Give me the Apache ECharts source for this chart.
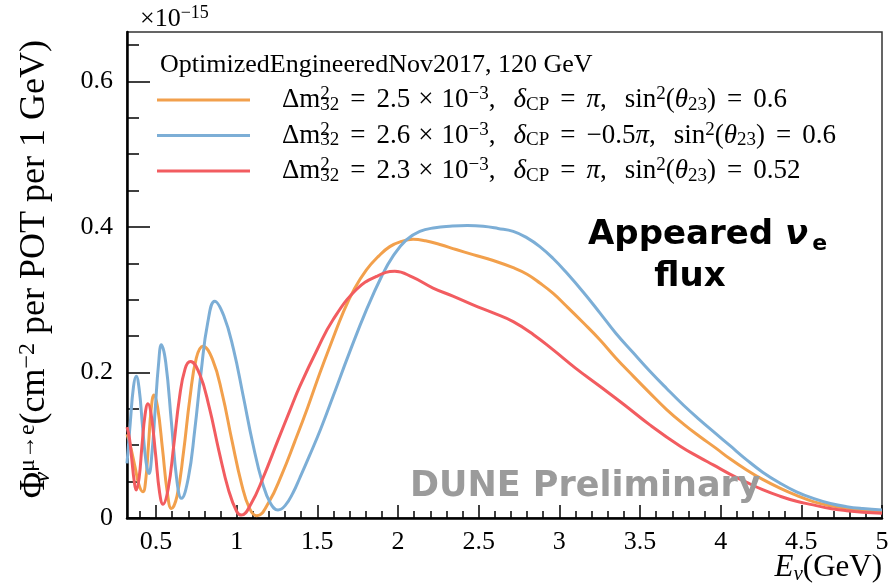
<!DOCTYPE html>
<html>
<head>
<meta charset="utf-8">
<script src="https://cdn.jsdelivr.net/npm/echarts@6/dist/echarts.min.js"></script>
<style>
  html, body { margin: 0; padding: 0; background: #ffffff; }
  #chart { width: 892px; height: 584px; }
</style>
</head>
<body>
<div id="chart"></div>
<script>
// Axis tick positions
const xMajorTicks = [0.5, 1, 1.5, 2, 2.5, 3, 3.5, 4, 4.5, 5];
const xMinorTicks = [0.4, 0.5, 0.6, 0.7, 0.8, 0.9, 1.0, 1.1, 1.2, 1.3, 1.4, 1.5, 1.6, 1.7, 1.8, 1.9,
  2.0, 2.1, 2.2, 2.3, 2.4, 2.5, 2.6, 2.7, 2.8, 2.9, 3.0, 3.1, 3.2, 3.3, 3.4, 3.5, 3.6, 3.7, 3.8, 3.9,
  4.0, 4.1, 4.2, 4.3, 4.4, 4.5, 4.6, 4.7, 4.8, 4.9, 5.0];
const yMajorTicks = [0, 0.2, 0.4, 0.6];
const yMinorTicks = [0.05, 0.1, 0.15, 0.2, 0.25, 0.3, 0.35, 0.4, 0.45, 0.5, 0.55, 0.6, 0.65];

// Appeared nu_e flux, [E_nu (GeV), flux (x1e-15 cm^-2 per POT per 1 GeV)]
const fluxNormal = [ // dm2 = 2.5e-3, dCP = pi, sin2 = 0.6
  [0.32, 0.115], [0.34, 0.10], [0.37, 0.07], [0.395, 0.045], [0.419, 0.036], [0.435, 0.05],
  [0.453, 0.10], [0.47, 0.15], [0.487, 0.169], [0.51, 0.152], [0.54, 0.095], [0.57, 0.035],
  [0.595, 0.013], [0.63, 0.03], [0.67, 0.09], [0.71, 0.165], [0.75, 0.22], [0.791, 0.236],
  [0.85, 0.218], [0.91, 0.171], [0.97, 0.107], [1.03, 0.047], [1.08, 0.013], [1.125, 0.003],
  [1.2, 0.022], [1.28, 0.06], [1.36, 0.105], [1.44, 0.152], [1.515, 0.199], [1.59, 0.243],
  [1.659, 0.282], [1.73, 0.315], [1.804, 0.341], [1.88, 0.36], [1.949, 0.373], [2.02, 0.38],
  [2.093, 0.383], [2.17, 0.381], [2.259, 0.376], [2.36, 0.369], [2.465, 0.362], [2.59, 0.354],
  [2.714, 0.344], [2.80, 0.335], [2.879, 0.323], [2.96, 0.309], [3.045, 0.291], [3.15, 0.268],
  [3.251, 0.245], [3.35, 0.22], [3.458, 0.195], [3.56, 0.172], [3.665, 0.149], [3.77, 0.129],
  [3.87, 0.112], [3.97, 0.096], [4.06, 0.081], [4.161, 0.066], [4.26, 0.053], [4.367, 0.041],
  [4.47, 0.031], [4.574, 0.0225], [4.68, 0.017], [4.781, 0.0133], [4.88, 0.011], [5.0, 0.0087]
];
const fluxMaxCP = [ // dm2 = 2.6e-3, dCP = -0.5 pi, sin2 = 0.6
  [0.32, 0.075], [0.34, 0.13], [0.36, 0.18], [0.377, 0.195], [0.395, 0.178], [0.416, 0.127],
  [0.438, 0.077], [0.456, 0.061], [0.475, 0.09], [0.495, 0.15], [0.515, 0.21], [0.533, 0.238],
  [0.56, 0.214], [0.595, 0.132], [0.63, 0.05], [0.657, 0.027], [0.70, 0.055], [0.74, 0.121],
  [0.78, 0.202], [0.82, 0.268], [0.864, 0.298], [0.92, 0.278], [0.98, 0.232], [1.04, 0.168],
  [1.10, 0.102], [1.16, 0.048], [1.21, 0.02], [1.256, 0.011], [1.30, 0.017], [1.35, 0.035],
  [1.391, 0.055], [1.45, 0.085], [1.52, 0.122], [1.597, 0.167], [1.70, 0.228], [1.804, 0.286],
  [1.90, 0.333], [1.969, 0.36], [2.05, 0.382], [2.135, 0.394], [2.23, 0.399], [2.321, 0.401],
  [2.43, 0.402], [2.528, 0.401], [2.62, 0.398], [2.714, 0.394], [2.80, 0.385], [2.879, 0.373],
  [2.96, 0.357], [3.045, 0.337], [3.15, 0.31], [3.251, 0.282], [3.35, 0.254], [3.458, 0.227],
  [3.56, 0.202], [3.665, 0.178], [3.77, 0.155], [3.87, 0.135], [3.97, 0.116], [4.06, 0.099],
  [4.161, 0.080], [4.26, 0.063], [4.367, 0.048], [4.47, 0.036], [4.574, 0.027], [4.68, 0.02],
  [4.781, 0.0156], [4.88, 0.013], [5.0, 0.011]
];
const fluxLowTheta = [ // dm2 = 2.3e-3, dCP = pi, sin2 = 0.52
  [0.32, 0.125], [0.335, 0.11], [0.35, 0.08], [0.365, 0.05], [0.377, 0.0385], [0.395, 0.055],
  [0.413, 0.10], [0.432, 0.142], [0.45, 0.157], [0.47, 0.142], [0.497, 0.088], [0.522, 0.035],
  [0.543, 0.019], [0.575, 0.04], [0.61, 0.10], [0.645, 0.165], [0.68, 0.205], [0.713, 0.215],
  [0.77, 0.198], [0.83, 0.152], [0.89, 0.092], [0.95, 0.038], [1.0, 0.009], [1.029, 0.004],
  [1.09, 0.02], [1.163, 0.055], [1.256, 0.107], [1.33, 0.148], [1.391, 0.181], [1.50, 0.232],
  [1.597, 0.2725], [1.742, 0.314], [1.866, 0.332], [1.98, 0.339], [2.09, 0.331], [2.217, 0.316],
  [2.34, 0.305], [2.465, 0.293], [2.59, 0.282], [2.714, 0.270], [2.84, 0.252], [2.962, 0.231],
  [3.1, 0.206], [3.251, 0.181], [3.4, 0.156], [3.561, 0.128], [3.747, 0.099], [3.871, 0.083],
  [3.954, 0.073], [4.06, 0.06], [4.161, 0.049], [4.26, 0.039], [4.367, 0.03], [4.47, 0.023],
  [4.574, 0.018], [4.68, 0.013], [4.781, 0.010], [4.88, 0.008], [5.0, 0.0065]
];

const seriesNames = [
  'Δm²₃₂ = 2.5 × 10⁻³, δCP = π, sin²(θ₂₃) = 0.6',
  'Δm²₃₂ = 2.6 × 10⁻³, δCP = −0.5π, sin²(θ₂₃) = 0.6',
  'Δm²₃₂ = 2.3 × 10⁻³, δCP = π, sin²(θ₂₃) = 0.52'
];
const seriesColors = ['#f2a04c', '#7caed6', '#f25c60'];
const seriesData = [fluxNormal, fluxMaxCP, fluxLowTheta];

const serif = "'Liberation Serif', 'Times New Roman', serif";
const sans = "'DejaVu Sans', sans-serif";

// rich-text pieces for the math-like legend labels
const base = { fontFamily: serif, fontSize: 27, lineHeight: 30, color: '#000' };
const small = { fontFamily: serif, fontSize: 19, lineHeight: 19, color: '#000' };
const mathRich = {
  n0: Object.assign({}, base, { padding: [0, 0, 0, 27] }),
  n: base,
  i: Object.assign({}, base, { fontStyle: 'italic' }),
  eq: Object.assign({}, base, { padding: [0, 11, 0, 11] }),
  x: Object.assign({}, base, { padding: [0, 8, 0, 8] }),
  c: Object.assign({}, base, { padding: [0, 18, 0, 0] }),
  sup: Object.assign({}, small, { padding: [0, 0, 11, 0] }),
  supz: Object.assign({}, small, { padding: [0, 0, 11, 0], width: 0 }),
  sub: Object.assign({}, small, { padding: [10, 0, 0, 0] })
};

function legendRow(dm, cp, s2) {
  return '{n0|Δm}{supz|2}{sub|32}{eq|=}{n|' + dm + '}{x|×}{n|10}{sup|−3}{c|,}' +
    '{i|δ}{sub|CP}{eq|=}' + cp + '{c|,}' +
    '{n|sin}{sup|2}{n|(}{i|θ}{sub|23}{n|)}{eq|=}{n|' + s2 + '}';
}
const legendLabels = {};
legendLabels[seriesNames[0]] = legendRow('2.5', '{i|π}', '0.6');
legendLabels[seriesNames[1]] = legendRow('2.6', '{n|−0.5}{i|π}', '0.6');
legendLabels[seriesNames[2]] = legendRow('2.3', '{i|π}', '0.52');

const chart = echarts.init(document.getElementById('chart'), null, { renderer: 'canvas' });

const X_MIN = 0.32, X_MAX = 5, Y_MIN = 0, Y_MAX = 0.668;

const option = {
  animation: false,
  backgroundColor: '#ffffff',
  grid: {
    left: 127, right: 10, top: 32, bottom: 66,
    show: true, borderColor: '#333', borderWidth: 1.5,
    outerBoundsMode: 'none'
  },
  legend: {
    orient: 'vertical',
    left: 157, top: 85,
    padding: 0,
    itemGap: 5.5,
    itemWidth: 93, itemHeight: 3,
    icon: 'rect',
    data: seriesNames,
    formatter: name => legendLabels[name],
    textStyle: { rich: mathRich }
  },
  xAxis: [
    {
      type: 'value', min: X_MIN, max: X_MAX,
      axisLine: { show: true, onZero: false, lineStyle: { color: '#000', width: 2.5 } },
      axisTick: { show: true, inside: true, length: 13, customValues: xMajorTicks, lineStyle: { color: '#000', width: 1.5 } },
      axisLabel: { show: true, customValues: xMajorTicks, margin: 11, color: '#000', fontFamily: serif, fontSize: 26 },
      splitLine: { show: false }
    },
    {
      type: 'value', min: X_MIN, max: X_MAX, position: 'bottom',
      axisLine: { show: false },
      axisTick: { show: true, inside: true, length: 7, customValues: xMinorTicks, lineStyle: { color: '#000', width: 1.5 } },
      axisLabel: { show: false },
      splitLine: { show: false }
    }
  ],
  yAxis: [
    {
      type: 'value', min: Y_MIN, max: Y_MAX,
      axisLine: { show: true, onZero: false, lineStyle: { color: '#000', width: 2.5 } },
      axisTick: { show: true, inside: true, length: 23, customValues: yMajorTicks, lineStyle: { color: '#000', width: 1.5 } },
      axisLabel: { show: true, customValues: yMajorTicks, margin: 14, color: '#000', fontFamily: serif, fontSize: 26 },
      splitLine: { show: false }
    },
    {
      type: 'value', min: Y_MIN, max: Y_MAX, position: 'left',
      axisLine: { show: false },
      axisTick: { show: true, inside: true, length: 12, customValues: yMinorTicks, lineStyle: { color: '#000', width: 1.5 } },
      axisLabel: { show: false },
      splitLine: { show: false }
    }
  ],
  series: seriesData.map((d, k) => ({
    name: seriesNames[k],
    type: 'line',
    xAxisIndex: 0, yAxisIndex: 0,
    data: d,
    smooth: 0.45,
    showSymbol: false,
    symbol: 'none',
    color: seriesColors[k],
    lineStyle: { color: seriesColors[k], width: 3 },
    z: 3 + k
  })),
  graphic: [
    { // exponent of the y scale
      type: 'text', x: 140, y: 19, z: 10,
      style: {
        text: '{n|×10}{sup|−15}',
        rich: {
          n: { fontFamily: serif, fontSize: 26, lineHeight: 30, fill: '#000' },
          sup: { fontFamily: serif, fontSize: 18, lineHeight: 18, fill: '#000', padding: [0, 0, 12, 0] }
        },
        align: 'left', verticalAlign: 'middle'
      }
    },
    { // legend header
      type: 'text', x: 160, y: 65, z: 10,
      style: {
        text: 'OptimizedEngineeredNov2017, 120 GeV',
        fontFamily: serif, fontSize: 26, fill: '#000',
        align: 'left', verticalAlign: 'middle'
      }
    },
    { // y axis title
      type: 'text', x: 35, y: 40, rotation: Math.PI / 2, z: 10,
      style: {
        text: '{b|Φ}{bsubz|ν}{bsup|μ→e}{b|(cm}{bsup|−2}{b| per POT per 1 GeV)}',
        rich: {
          b: { fontFamily: serif, fontSize: 36, lineHeight: 40, fill: '#000' },
          bsup: { fontFamily: serif, fontSize: 24, lineHeight: 24, fill: '#000', padding: [0, 0, 15, 0] },
          bsubz: { fontFamily: serif, fontSize: 24, lineHeight: 24, fill: '#000', fontStyle: 'italic', padding: [15, 0, 0, 0], width: 0 }
        },
        align: 'right', verticalAlign: 'middle'
      }
    },
    { // x axis title
      type: 'text', x: 882, y: 568, z: 10,
      style: {
        text: '{bi|E}{bsub|ν}{b|(GeV)}',
        rich: {
          b: { fontFamily: serif, fontSize: 31, lineHeight: 34, fill: '#000' },
          bi: { fontFamily: serif, fontSize: 31, lineHeight: 34, fill: '#000', fontStyle: 'italic' },
          bsub: { fontFamily: serif, fontSize: 21, lineHeight: 21, fill: '#000', fontStyle: 'italic', padding: [12, 0, 0, 0] }
        },
        align: 'right', verticalAlign: 'middle'
      }
    },
    { // annotation
      type: 'text', x: 588, y: 235, z: 10,
      style: {
        text: '{a|Appeared }{nu|ν}{e|e}',
        rich: {
          a: { fontFamily: sans, fontWeight: 'bold', fontSize: 34, lineHeight: 40, fill: '#000' },
          nu: { fontFamily: sans, fontWeight: 'bold', fontStyle: 'italic', fontSize: 34, lineHeight: 40, fill: '#000' },
          e: { fontFamily: sans, fontWeight: 'bold', fontSize: 22, lineHeight: 22, fill: '#000', padding: [18, 0, 0, 4] }
        },
        align: 'left', verticalAlign: 'middle'
      }
    },
    {
      type: 'text', x: 690, y: 277, z: 10,
      style: {
        text: 'flux', fontFamily: sans, fontWeight: 'bold', fontSize: 34, fill: '#000',
        align: 'center', verticalAlign: 'middle'
      }
    },
    {
      type: 'text', x: 410, y: 487, z: 10,
      style: {
        text: 'DUNE Preliminary', fontFamily: sans, fontWeight: 'bold', fontSize: 35, fill: '#9b9b9b',
        align: 'left', verticalAlign: 'middle'
      }
    }
  ]
};

chart.setOption(option);
</script>
</body>
</html>
